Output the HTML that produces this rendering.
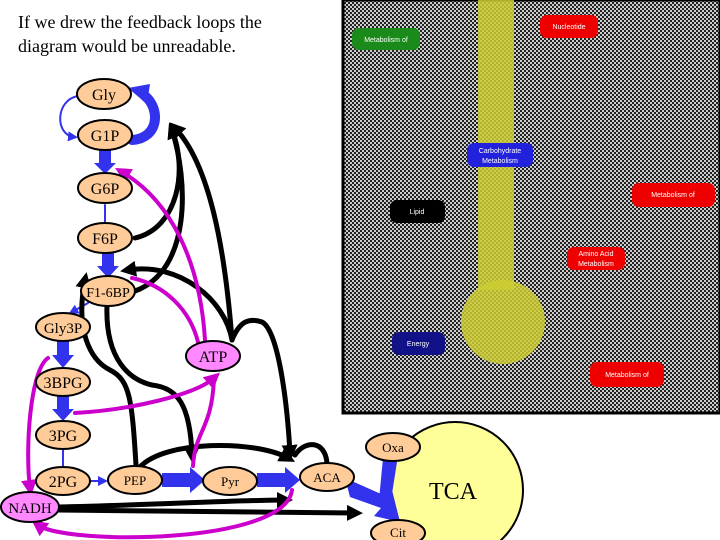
<!DOCTYPE html>
<html><head><meta charset="utf-8"><style>
body{margin:0;width:720px;height:540px;background:#fff;overflow:hidden;position:relative;font-family:"Liberation Serif",serif}
.t{position:absolute;left:18px;font-size:18px;line-height:24px;top:10px;color:#000}
</style></head><body>
<div class="t">If we drew the feedback loops the<br>diagram would be unreadable.</div>
<svg width="720" height="540" style="position:absolute;left:0;top:0" font-family="Liberation Serif, serif">
<defs>
<pattern id="ck" width="4" height="4" patternUnits="userSpaceOnUse"><rect width="4" height="4" fill="#222"/><rect width="2" height="2" fill="#ccc"/><rect x="2" y="2" width="2" height="2" fill="#ccc"/></pattern>
<marker id="ab" markerWidth="3.2" markerHeight="3.2" refX="1.6" refY="1.6" orient="auto" markerUnits="strokeWidth"><path d="M0,0L3.2,1.6L0,3.2z" fill="#000"/></marker>
<marker id="am" markerWidth="4" markerHeight="4" refX="2" refY="2" orient="auto" markerUnits="strokeWidth"><path d="M0,0L4,2L0,4z" fill="#c0c"/></marker>
<marker id="at" markerWidth="5" markerHeight="5" refX="3" refY="2.5" orient="auto" markerUnits="strokeWidth"><path d="M0,0L5,2.5L0,5z" fill="#33e"/></marker>
</defs>
<!-- right panel -->
<rect x="343" y="0" width="377" height="413" fill="url(#ck)"/>
<rect x="343" y="0" width="377" height="413" fill="none" stroke="#000" stroke-width="3"/>
<rect x="478" y="0" width="36" height="290" fill="#cc3" opacity="0.85"/>
<circle cx="503" cy="322" r="42" fill="#cc3" opacity="0.85"/>
<g font-size="7" fill="#fff" text-anchor="middle" font-family="Liberation Sans, sans-serif">
<rect x="352" y="28" width="68" height="22" rx="7" fill="#1a8a1a"/><text x="386" y="42">Metabolism of</text>
<rect x="540" y="15" width="58" height="23" rx="7" fill="#e00"/><text x="569" y="29">Nucleotide</text>
<rect x="467" y="143" width="66" height="24" rx="7" fill="#22d"/><text x="500" y="153">Carbohydrate</text><text x="500" y="163">Metabolism</text>
<rect x="632" y="183" width="83" height="24" rx="7" fill="#e00"/><text x="673" y="197">Metabolism of</text>
<rect x="390" y="200" width="55" height="23" rx="7" fill="#000"/><text x="417" y="214">Lipid</text>
<rect x="567" y="247" width="58" height="23" rx="7" fill="#e00"/><text x="596" y="256">Amino Acid</text><text x="596" y="266">Metabolism</text>
<rect x="392" y="332" width="53" height="23" rx="7" fill="#118"/><text x="418" y="346">Energy</text>
<rect x="590" y="362" width="74" height="25" rx="7" fill="#e00"/><text x="627" y="377">Metabolism of</text>
</g>
<!-- TCA -->
<circle cx="455" cy="490" r="68" fill="#ffff99" stroke="#000" stroke-width="2"/>
<text x="453" y="499" font-size="24" text-anchor="middle">TCA</text>
<!-- blue thick arrows -->
<g fill="#33e">
<polygon points="99,150 111,150 111,163 116,163 105,174 94,163 99,163"/>
<polygon points="102,253 114,253 114,266 119,266 108,278 97,266 102,266"/>
<polygon points="57,341 69,341 69,355 74,355 63,368 52,355 57,355"/>
<polygon points="57,396 69,396 69,409 74,409 63,421 52,409 57,409"/>
<polygon points="162,473 190,473 190,467 205,480 190,493 190,487 162,487"/>
<polygon points="257,473 285,473 285,467 300,480 285,493 285,487 257,487"/>
<polygon points="345,478 372,490 388,497 392,490 400,522 374,516 381,508 350,497"/>
<polygon points="383,458 397,462 391,500 379,500"/>
<polygon points="128,88 150,84 147,104"/>
</g>
<g fill="none" stroke-linecap="round">
<path d="M132,140C160,138 160,108 145,96" stroke="#33e" stroke-width="10"/>
<path d="M78,96C55,100 55,135 74,137" stroke="#33e" stroke-width="2" marker-end="url(#at)"/>
<path d="M105,205L105,222" stroke="#33e" stroke-width="2"/>
<path d="M63,450L63,466" stroke="#33e" stroke-width="2"/>
<path d="M90,481L104,481" stroke="#33e" stroke-width="2" marker-end="url(#at)"/>
<path d="M88,303L72,312" stroke="#33e" stroke-width="2" marker-end="url(#at)"/>
<!-- black -->
<g stroke="#000" stroke-width="5">
<path d="M135,238C178,228 188,170 172,130" marker-end="url(#ab)"/>
<path d="M135,291C192,270 188,180 172,130"/>
<path d="M232,340C225,250 210,165 175,128" marker-end="url(#ab)"/>
<path d="M232,340C240,320 250,318 262,322C278,330 287,400 290,453" marker-end="url(#ab)"/>
<path d="M232,340C225,300 180,262 128,270" marker-end="url(#ab)"/>
<path d="M136,465C132,400 130,380 110,370C90,360 75,330 85,280" marker-end="url(#ab)"/>
<path d="M107,305C105,360 130,380 152,385C178,388 190,405 192,455" marker-end="url(#ab)"/>
<path d="M140,467C165,440 255,440 288,458" marker-end="url(#ab)"/>
<path d="M327,463C325,440 305,440 295,455"/>
<path d="M58,507C150,505 240,500 285,500" marker-end="url(#ab)"/>
<path d="M58,510L355,513" marker-end="url(#ab)"/>
</g>
<!-- magenta -->
<g stroke="#c0c" stroke-width="4">
<path d="M205,340C200,260 170,200 122,172" marker-end="url(#am)"/>
<path d="M198,342C190,310 165,285 132,278"/>
<path d="M75,413C130,410 195,395 214,378" marker-end="url(#am)"/>
<path d="M193,466C195,430 212,430 214,378"/>
<path d="M48,358C30,370 25,450 30,488" marker-end="url(#am)"/>
<path d="M292,490C285,545 65,545 38,525" marker-end="url(#am)"/>
</g>
</g>
<!-- nodes -->
<g stroke="#000" stroke-width="2" fill="#fc9" font-size="16" text-anchor="middle">
<ellipse cx="104" cy="94" rx="27" ry="15"/><text x="104" y="100" stroke="none" fill="#000">Gly</text>
<ellipse cx="105" cy="135" rx="27" ry="15"/><text x="105" y="141" stroke="none" fill="#000">G1P</text>
<ellipse cx="105" cy="188" rx="27" ry="15"/><text x="105" y="194" stroke="none" fill="#000">G6P</text>
<ellipse cx="105" cy="238" rx="27" ry="15"/><text x="105" y="244" stroke="none" fill="#000">F6P</text>
<ellipse cx="108" cy="291" rx="27" ry="15"/><text x="108" y="297" stroke="none" fill="#000" font-size="14">F1-6BP</text>
<ellipse cx="63" cy="327" rx="27" ry="14"/><text x="63" y="333" stroke="none" fill="#000" font-size="15">Gly3P</text>
<ellipse cx="63" cy="382" rx="27" ry="14"/><text x="63" y="388" stroke="none" fill="#000">3BPG</text>
<ellipse cx="63" cy="435" rx="27" ry="14"/><text x="63" y="441" stroke="none" fill="#000">3PG</text>
<ellipse cx="63" cy="481" rx="27" ry="14"/><text x="63" y="487" stroke="none" fill="#000">2PG</text>
<ellipse cx="135" cy="480" rx="27" ry="14"/><text x="135" y="485" stroke="none" fill="#000" font-size="13">PEP</text>
<ellipse cx="230" cy="481" rx="27" ry="14"/><text x="230" y="486" stroke="none" fill="#000" font-size="13">Pyr</text>
<ellipse cx="327" cy="477" rx="27" ry="14"/><text x="327" y="482" stroke="none" fill="#000" font-size="13">ACA</text>
<ellipse cx="393" cy="447" rx="27" ry="14"/><text x="393" y="452" stroke="none" fill="#000" font-size="13">Oxa</text>
<ellipse cx="398" cy="533" rx="27" ry="13"/><text x="398" y="537" stroke="none" fill="#000" font-size="13">Cit</text>
<ellipse cx="213" cy="356" rx="27" ry="15" fill="#f8f"/><text x="213" y="362" stroke="none" fill="#000">ATP</text>
<ellipse cx="30" cy="507" rx="29" ry="15" fill="#f8f"/><text x="30" y="513" stroke="none" fill="#000" font-size="15">NADH</text>
</g>
</svg>
</body></html>
